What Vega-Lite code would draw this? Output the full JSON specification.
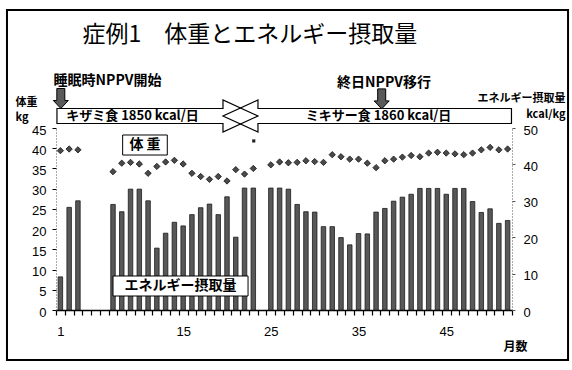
{
  "$schema": "https://vega.github.io/schema/vega-lite/v6.json",
  "width": 456,
  "height": 182,
  "autosize": {"type": "none"},
  "padding": {"left": 56, "top": 128, "right": 60, "bottom": 60},
  "background": "white",
  "config": {
    "view": {"stroke": null},
    "axis": {"labelFont": "Liberation Sans", "labelColor": "black", "grid": false, "labelOverlap": false, "labelFlush": false}
  },
  "datasets": {
    "course": [
      {"month": 1, "energy": 9.1, "weight": 39.4},
      {"month": 2, "energy": 28.2, "weight": 39.8},
      {"month": 3, "energy": 30.0, "weight": 39.6},
      {"month": 7, "energy": 29.0, "weight": 34.2},
      {"month": 8, "energy": 27.0, "weight": 36.3},
      {"month": 9, "energy": 33.2, "weight": 36.5},
      {"month": 10, "energy": 33.2, "weight": 36.1},
      {"month": 11, "energy": 30.0, "weight": 33.8},
      {"month": 12, "energy": 17.0, "weight": 35.5},
      {"month": 13, "energy": 21.1, "weight": 36.6},
      {"month": 14, "energy": 24.1, "weight": 37.0},
      {"month": 15, "energy": 23.1, "weight": 36.1},
      {"month": 16, "energy": 26.2, "weight": 33.8},
      {"month": 17, "energy": 28.1, "weight": 33.0},
      {"month": 18, "energy": 29.1, "weight": 32.3},
      {"month": 19, "energy": 26.2, "weight": 33.0},
      {"month": 20, "energy": 31.1, "weight": 31.9},
      {"month": 21, "energy": 20.0, "weight": 34.7},
      {"month": 22, "energy": 33.5, "weight": 33.6},
      {"month": 23, "energy": 33.5, "weight": 35.0},
      {"month": 25, "energy": 33.5, "weight": 35.9},
      {"month": 26, "energy": 33.5, "weight": 36.6},
      {"month": 27, "energy": 33.2, "weight": 36.4},
      {"month": 28, "energy": 29.0, "weight": 36.5},
      {"month": 29, "energy": 27.0, "weight": 36.9},
      {"month": 30, "energy": 26.9, "weight": 36.7},
      {"month": 31, "energy": 22.9, "weight": 36.5},
      {"month": 32, "energy": 22.9, "weight": 38.4},
      {"month": 33, "energy": 19.9, "weight": 37.9},
      {"month": 34, "energy": 17.9, "weight": 37.3},
      {"month": 35, "energy": 21.0, "weight": 37.3},
      {"month": 36, "energy": 20.9, "weight": 36.3},
      {"month": 37, "energy": 26.9, "weight": 35.2},
      {"month": 38, "energy": 27.9, "weight": 36.9},
      {"month": 39, "energy": 29.9, "weight": 37.3},
      {"month": 40, "energy": 31.0, "weight": 37.8},
      {"month": 41, "energy": 31.8, "weight": 38.2},
      {"month": 42, "energy": 33.4, "weight": 37.9},
      {"month": 43, "energy": 33.4, "weight": 38.8},
      {"month": 44, "energy": 33.4, "weight": 39.0},
      {"month": 45, "energy": 31.8, "weight": 38.8},
      {"month": 46, "energy": 33.4, "weight": 38.6},
      {"month": 47, "energy": 33.4, "weight": 38.4},
      {"month": 48, "energy": 29.8, "weight": 38.8},
      {"month": 49, "energy": 26.8, "weight": 39.6},
      {"month": 50, "energy": 27.8, "weight": 40.2},
      {"month": 51, "energy": 23.8, "weight": 39.6},
      {"month": 52, "energy": 24.6, "weight": 39.8}
    ]
  },
  "data": {"name": "course"},
  "layer": [
    {
      "mark": {"type": "bar", "width": 4.5, "fill": "#585858", "stroke": "#1a1a1a", "strokeWidth": 0.8},
      "encoding": {
        "x": {
          "field": "month", "type": "quantitative",
          "scale": {"domain": [0.5, 52.5], "nice": false, "zero": false, "padding": 0},
          "axis": {
            "orient": "bottom",
            "values": [0.5, 1.5, 2.5, 3.5, 4.5, 5.5, 6.5, 7.5, 8.5, 9.5, 10.5, 11.5, 12.5, 13.5, 14.5, 15.5, 16.5, 17.5, 18.5, 19.5, 20.5, 21.5, 22.5, 23.5, 24.5, 25.5, 26.5, 27.5, 28.5, 29.5, 30.5, 31.5, 32.5, 33.5, 34.5, 35.5, 36.5, 37.5, 38.5, 39.5, 40.5, 41.5, 42.5, 43.5, 44.5, 45.5, 46.5, 47.5, 48.5, 49.5, 50.5, 51.5, 52.5],
            "labelExpr": "indexof([1, 15, 25, 35, 45], datum.value + 0.5) >= 0 ? format(datum.value + 0.5, 'd') : ''",
            "labelOffset": 4.385,
            "labelFlush": false,
            "labelOverlap": false,
            "labelFontSize": 13,
            "labelPadding": 10,
            "tickSize": 5,
            "tickColor": "black",
            "tickWidth": 1.2,
            "domainColor": "black",
            "domainWidth": 1.5,
            "title": "月数",
            "titleFont": "Noto Sans CJK JP",
            "titleFontSize": 12,
            "titleFontWeight": "bold",
            "titleX": 459,
            "titleY": 36,
            "titleAlign": "center",
            "titleBaseline": "middle"
          }
        },
        "y": {
          "field": "energy", "type": "quantitative",
          "scale": {"domain": [0, 50], "nice": false},
          "axis": {
            "orient": "right",
            "values": [0, 10, 20, 30, 40, 50],
            "domainColor": "#555",
            "domainDash": [1, 2],
            "tickColor": "#555",
            "tickSize": 3,
            "labelFontSize": 13,
            "labelPadding": 8,
            "labelOffset": 2,
            "labelOverlap": false,
            "title": ["エネルギー摂取量", "kcal/kg"],
            "titleFont": "Noto Sans CJK JP",
            "titleFontSize": 11,
            "titleFontWeight": "bold",
            "titleAngle": 0,
            "titleAlign": "right",
            "titleBaseline": "top",
            "titleLineHeight": 16,
            "titleX": 53,
            "titleY": -36
          }
        }
      }
    },
    {
      "mark": {"type": "point", "shape": "diamond", "size": 40, "filled": true, "fill": "#4a4a4a", "stroke": "#111", "strokeWidth": 0.8, "opacity": 1},
      "encoding": {
        "x": {"field": "month", "type": "quantitative", "scale": {"domain": [0.5, 52.5], "nice": false, "zero": false, "padding": 0}, "axis": null},
        "y": {
          "field": "weight", "type": "quantitative",
          "scale": {"domain": [0, 45], "nice": false},
          "axis": {
            "orient": "left",
            "values": [0, 5, 10, 15, 20, 25, 30, 35, 40, 45],
            "domainColor": "#555",
            "domainDash": [1, 2],
            "tickColor": "black",
            "tickSize": 4,
            "labelFontSize": 13,
            "labelPadding": 6,
            "labelOffset": 2,
            "labelOverlap": false,
            "title": ["体重", "kg"],
            "titleFont": "Noto Sans CJK JP",
            "titleFontSize": 11,
            "titleFontWeight": "bold",
            "titleAngle": 0,
            "titleAlign": "left",
            "titleBaseline": "top",
            "titleLineHeight": 15,
            "titleX": -41,
            "titleY": -32
          }
        }
      }
    },
    {
      "data": {"values": [{}]},
      "encoding": {
        "x": {"datum": 0, "type": "quantitative", "scale": {"domain": [0.5, 52.5], "nice": false, "zero": false, "padding": 0}, "axis": null},
        "y": {"datum": 0, "type": "quantitative", "scale": {"domain": [0, 45], "nice": false}, "axis": null}
      },
      "layer": [
        {
          "mark": {"type": "rect", "fill": null, "stroke": "black", "strokeWidth": 2},
          "encoding": {
            "x": {"datum": -5.09, "type": "quantitative", "axis": null},
            "x2": {"datum": 58.89},
            "y": {"datum": 74.18, "type": "quantitative", "axis": null},
            "y2": {"datum": -12.36}
          }
        },
        {
          "mark": {"type": "text", "text": "症例1　体重とエネルギー摂取量", "font": "Noto Sans CJK JP", "fontSize": 23, "align": "center", "baseline": "middle", "color": "black"},
          "encoding": {
            "x": {"datum": 22.62, "type": "quantitative", "axis": null},
            "y": {"datum": 68.0, "type": "quantitative", "axis": null}
          }
        },
        {
          "mark": {"type": "point", "shape": "M-1,-0.0746L0.652,-0.0746L0.652,-0.1592L1,0L0.652,0.1592L0.652,0.0746L-1,0.0746Z", "size": 40401, "filled": false, "color": "black", "strokeWidth": 1.2, "opacity": 1},
          "encoding": {
            "x": {"datum": 12.07, "type": "quantitative", "axis": null},
            "y": {"datum": 47.97, "type": "quantitative", "axis": null}
          }
        },
        {
          "mark": {"type": "point", "shape": "M1,-0.052L-0.7574,-0.052L-0.7574,-0.1109L-1,0L-0.7574,0.1109L-0.7574,0.052L1,0.052Z", "size": 83232, "filled": false, "color": "black", "strokeWidth": 1.2, "opacity": 1},
          "encoding": {
            "x": {"datum": 35.99, "type": "quantitative", "axis": null},
            "y": {"datum": 47.97, "type": "quantitative", "axis": null}
          }
        },
        {
          "mark": {"type": "text", "text": "キザミ食 1850 kcal/日", "font": "Noto Sans CJK JP", "fontSize": 13, "fontWeight": "bold", "align": "center", "baseline": "middle", "color": "black"},
          "encoding": {
            "x": {"datum": 9.22, "type": "quantitative", "axis": null},
            "y": {"datum": 47.97, "type": "quantitative", "axis": null}
          }
        },
        {
          "mark": {"type": "text", "text": "ミキサー食 1860 kcal/日", "font": "Noto Sans CJK JP", "fontSize": 13, "fontWeight": "bold", "align": "center", "baseline": "middle", "color": "black"},
          "encoding": {
            "x": {"datum": 37.28, "type": "quantitative", "axis": null},
            "y": {"datum": 47.97, "type": "quantitative", "axis": null}
          }
        },
        {
          "mark": {"type": "point", "shape": "M-0.4,-1L0.4,-1L0.4,0.2L0.75,0.2L0,1L-0.75,0.2L-0.4,0.2Z", "size": 400, "filled": true, "fill": "#5a5a5a", "stroke": "black", "strokeWidth": 1, "opacity": 1},
          "encoding": {
            "x": {"datum": 1.05, "type": "quantitative", "axis": null},
            "y": {"datum": 52.3, "type": "quantitative", "axis": null}
          }
        },
        {
          "mark": {"type": "point", "shape": "M-0.4,-1L0.4,-1L0.4,0.2L0.75,0.2L0,1L-0.75,0.2L-0.4,0.2Z", "size": 400, "filled": true, "fill": "#5a5a5a", "stroke": "black", "strokeWidth": 1, "opacity": 1},
          "encoding": {
            "x": {"datum": 37.64, "type": "quantitative", "axis": null},
            "y": {"datum": 52.2, "type": "quantitative", "axis": null}
          }
        },
        {
          "mark": {"type": "text", "text": "睡眠時NPPV開始", "font": "Noto Sans CJK JP", "fontSize": 14, "fontWeight": "bold", "align": "center", "baseline": "middle", "color": "black"},
          "encoding": {
            "x": {"datum": 6.37, "type": "quantitative", "axis": null},
            "y": {"datum": 56.6, "type": "quantitative", "axis": null}
          }
        },
        {
          "mark": {"type": "text", "text": "終日NPPV移行", "font": "Noto Sans CJK JP", "fontSize": 14, "fontWeight": "bold", "align": "center", "baseline": "middle", "color": "black"},
          "encoding": {
            "x": {"datum": 37.9, "type": "quantitative", "axis": null},
            "y": {"datum": 56.1, "type": "quantitative", "axis": null}
          }
        },
        {
          "mark": {"type": "point", "shape": "square", "size": 10, "filled": true, "color": "#222", "opacity": 1},
          "encoding": {
            "x": {"datum": 23.05, "type": "quantitative", "axis": null},
            "y": {"datum": 41.8, "type": "quantitative", "axis": null}
          }
        },
        {
          "mark": {"type": "rect", "fill": "white", "stroke": "black", "strokeWidth": 1},
          "encoding": {
            "x": {"datum": 8.1, "type": "quantitative", "axis": null},
            "x2": {"datum": 13.19},
            "y": {"datum": 43.27, "type": "quantitative", "axis": null},
            "y2": {"datum": 38.32}
          }
        },
        {
          "mark": {"type": "text", "text": "体 重", "font": "Noto Sans CJK JP", "fontSize": 14, "fontWeight": "bold", "align": "center", "baseline": "middle", "color": "black"},
          "encoding": {
            "x": {"datum": 10.65, "type": "quantitative", "axis": null},
            "y": {"datum": 40.8, "type": "quantitative", "axis": null}
          }
        },
        {
          "mark": {"type": "rect", "fill": "white", "stroke": "black", "strokeWidth": 1},
          "encoding": {
            "x": {"datum": 7.0, "type": "quantitative", "axis": null},
            "x2": {"datum": 22.4},
            "y": {"datum": 8.41, "type": "quantitative", "axis": null},
            "y2": {"datum": 3.46}
          }
        },
        {
          "mark": {"type": "text", "text": "エネルギー摂取量", "font": "Noto Sans CJK JP", "fontSize": 14, "fontWeight": "bold", "align": "center", "baseline": "middle", "color": "black"},
          "encoding": {
            "x": {"datum": 14.7, "type": "quantitative", "axis": null},
            "y": {"datum": 5.93, "type": "quantitative", "axis": null}
          }
        }
      ]
    }
  ],
  "resolve": {
    "scale": {"x": "independent", "y": "independent"},
    "axis": {"x": "independent", "y": "independent"}
  }
}
